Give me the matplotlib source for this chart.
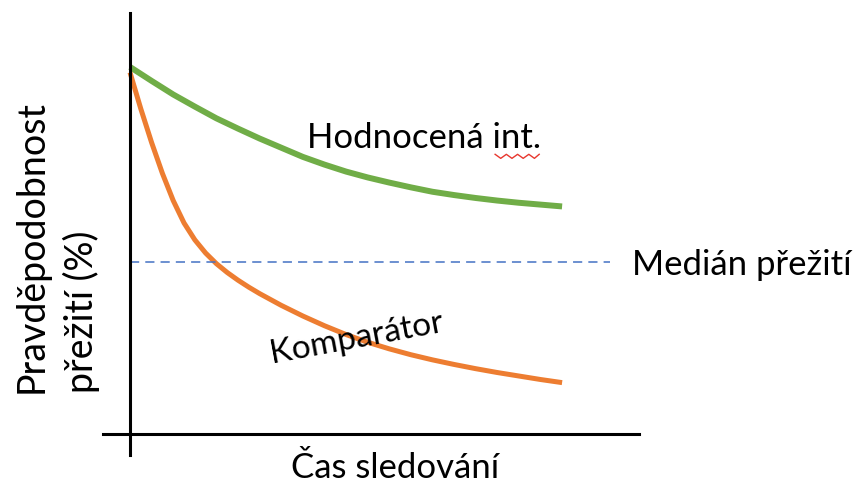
import matplotlib.pyplot as plt

plt.rcParams['font.family'] = ['Lato', 'DejaVu Sans']

# time (arbitrary units) and survival probability (%)
t_green = [0, 0.5, 1, 1.5, 2, 2.5, 3, 3.5, 4, 4.5, 5, 5.5, 6, 6.5, 7, 7.5, 8, 8.5, 9, 9.5, 10]
green = [100, 96.2, 92.5, 89.2, 86, 83.2, 80.5, 78, 75.5, 73.4, 71.5, 69.9, 68.5, 67.2, 66, 65.1, 64.3, 63.6, 63, 62.5, 62]

t_orange = [0, 0.25, 0.5, 0.75, 1, 1.25, 1.5, 1.75, 2, 2.25, 2.5, 2.75, 3, 3.5, 4, 4.5, 5,
            5.5, 6, 6.5, 7, 7.5, 8, 8.5, 9, 9.5, 10]
orange = [98.5, 88.6, 79.4, 71.0, 63.6, 57.5, 52.9, 49.3, 46.4, 44.0, 41.9, 40.0, 38.25, 35.05, 32.15,
          29.5, 27.1, 25.0, 23.2, 21.6, 20.2, 18.95, 17.8, 16.75, 15.8, 14.85, 14.0]

median_level = 46.9
median_end = 11.1

fig = plt.figure(figsize=(8.58, 4.85), dpi=100)
ax = fig.add_axes([103/858, 29/485, 536/858, 442/485])

ax.plot(t_green, green, color='#70AD47', lw=4.3, solid_capstyle='butt')
ax.plot(t_orange, orange, color='#ED7D31', lw=3.6, solid_capstyle='butt')
ax.plot([0, median_end], [median_level, median_level], color='#4472C4', lw=1.1,
        dashes=(6, 4), clip_on=False)

ax.set_xlim(-0.625, 11.78)
ax.set_ylim(-5.72, 114.7)
for s in ['top', 'right']:
    ax.spines[s].set_visible(False)
ax.spines['left'].set_position(('data', 0))
ax.spines['bottom'].set_position(('data', 0))
for s in ['left', 'bottom']:
    ax.spines[s].set_linewidth(2.2)
ax.set_xticks([])
ax.set_yticks([])

ax.text(4.1, 80.8, 'Hodnocená int.', fontsize=25, va='center', ha='left')
ax.text(5.25, 26.3, 'Komparátor', fontsize=24, va='center', ha='center', rotation=10.5)
ax.text(11.62, 46.4, 'Medián přežití', fontsize=25, va='center', ha='left', clip_on=False)

# spell-check squiggle under "int."
sq_x = [8.45, 8.58, 8.71, 8.84, 8.97, 9.10, 9.23, 9.36, 9.47]
sq_y = [76.2, 75.1, 76.2, 75.1, 76.2, 75.1, 76.2, 75.1, 76.2]
ax.plot(sq_x, sq_y, color='#E8372E', lw=1.0)

fig.text(57/858, 92/485, 'Pravděpodobnost\npřežití (%)', fontsize=27, rotation=90,
         ha='center', va='bottom', multialignment='left', linespacing=1.45)
fig.text(395/858, 17/485, 'Čas sledování', fontsize=25, ha='center', va='center')

fig.savefig('out.png', dpi=100)
